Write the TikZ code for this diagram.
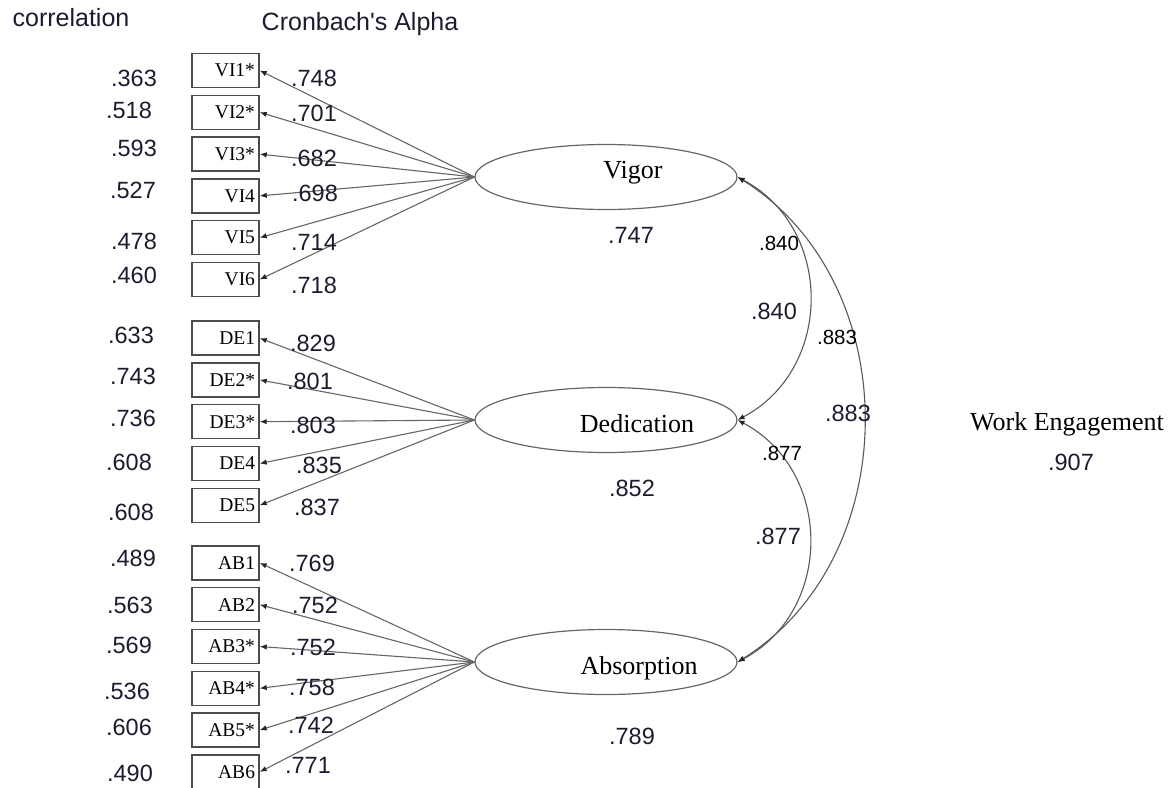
\documentclass[tikz,border=0pt]{standalone}
\usepackage{fontspec}
\setmainfont{Liberation Serif}
\newfontfamily\arialf{Liberation Sans}
\usetikzlibrary{arrows.meta,positioning,shapes.geometric}
\definecolor{numc}{RGB}{28,28,48}

\begin{document}
\begin{tikzpicture}[x=1pt,y=-1pt,>={Latex[length=7pt,width=5.5pt,color=black!85]},node distance=6.4pt,
  item/.style={draw=black!70,line width=1.4pt,minimum width=67pt,minimum height=34pt,
    text width=59pt,align=right,inner sep=0pt,font=\fontsize{19.5}{19.5}\selectfont},
  fac/.style={draw=black!60,line width=1.2pt,ellipse,minimum width=262pt,
    minimum height=65pt,inner sep=0pt},
  facname/.style={font=\fontsize{26}{26}\selectfont,inner sep=0pt},
  num/.style={font=\arialf\fontsize{23.5}{23.5}\selectfont,text=numc,inner sep=0pt},
  small/.style={font=\arialf\fontsize{20.5}{20.5}\selectfont,inner sep=0pt},
  head/.style={font=\arialf\fontsize{25}{25}\selectfont,text=numc,inner sep=0pt},
  load/.style={draw=black!60,line width=1.1pt,->},
  covline/.style={draw=black!65,line width=1.1pt,<->}]
\useasboundingbox (0,0) rectangle (1174,787);
% headings
\node[head] (hcor) at (71,18) {correlation};
\node[head] (halp) at (360,24) {Cronbach's Alpha};
% observed items
\node[item] (vi1) at (225.5,70.5) {VI1*};
\node[item,below=of vi1] (vi2) {VI2*};
\node[item,below=of vi2] (vi3) {VI3*};
\node[item,below=of vi3] (vi4) {VI4};
\node[item,below=of vi4] (vi5) {VI5};
\node[item,below=of vi5] (vi6) {VI6};
\node[item,below=23.2pt of vi6] (de1) {DE1};
\node[item,below=of de1] (de2) {DE2*};
\node[item,below=of de2] (de3) {DE3*};
\node[item,below=of de3] (de4) {DE4};
\node[item,below=of de4] (de5) {DE5};
\node[item,below=22.2pt of de5] (ab1) {AB1};
\node[item,below=of ab1] (ab2) {AB2};
\node[item,below=of ab2] (ab3) {AB3*};
\node[item,below=of ab3] (ab4) {AB4*};
\node[item,below=of ab4] (ab5) {AB5*};
\node[item,below=of ab5] (ab6) {AB6};
% latent factors
\node[fac] (vig) at (606,177) {};
\node[fac] (ded) at (606,420) {};
\node[fac] (abs) at (606,662) {};
\node[facname] (vigt) at (633,173) {Vigor};
\node[facname] (dedt) at (637,424) {Dedication};
\node[facname] (abst) at (639,668) {Absorption};
\node[num] (avig) at (631,235) {.747};
\node[num] (aded) at (632,488) {.852};
\node[num] (aabs) at (632,736) {.789};
% item-total correlations
\node[num] (r1) at (134,78) {.363};
\node[num] (r2) at (129,110) {.518};
\node[num] (r3) at (134,148) {.593};
\node[num] (r4) at (133,190) {.527};
\node[num] (r5) at (134,241) {.478};
\node[num] (r6) at (134,275) {.460};
\node[num] (r7) at (131,335) {.633};
\node[num] (r8) at (133,376) {.743};
\node[num] (r9) at (133,418) {.736};
\node[num] (r10) at (129,462) {.608};
\node[num] (r11) at (131,512) {.608};
\node[num] (r12) at (133,558) {.489};
\node[num] (r13) at (130,605) {.563};
\node[num] (r14) at (129,645) {.569};
\node[num] (r15) at (127,691) {.536};
\node[num] (r16) at (129,727) {.606};
\node[num] (r17) at (130,773) {.490};
% loadings
\draw[load] (vig.west) -- (vi1.east);
\draw[load] (vig.west) -- (vi2.east);
\draw[load] (vig.west) -- (vi3.east);
\draw[load] (vig.west) -- (vi4.east);
\draw[load] (vig.west) -- (vi5.east);
\draw[load] (vig.west) -- (vi6.east);
\draw[load] (ded.west) -- (de1.east);
\draw[load] (ded.west) -- (de2.east);
\draw[load] (ded.west) -- (de3.east);
\draw[load] (ded.west) -- (de4.east);
\draw[load] (ded.west) -- (de5.east);
\draw[load] (abs.west) -- (ab1.east);
\draw[load] (abs.west) -- (ab2.east);
\draw[load] (abs.west) -- (ab3.east);
\draw[load] (abs.west) -- (ab4.east);
\draw[load] (abs.west) -- (ab5.east);
\draw[load] (abs.west) -- (ab6.east);
\node[num] (l1) at (314,78) {.748};
\node[num] (l2) at (314,113) {.701};
\node[num] (l3) at (314,158) {.682};
\node[num] (l4) at (315,193) {.698};
\node[num] (l5) at (314,242) {.714};
\node[num] (l6) at (314,285) {.718};
\node[num] (l7) at (313,343) {.829};
\node[num] (l8) at (310,381) {.801};
\node[num] (l9) at (313,425) {.803};
\node[num] (l10) at (319,465) {.835};
\node[num] (l11) at (317,507) {.837};
\node[num] (l12) at (312,563) {.769};
\node[num] (l13) at (315,605) {.752};
\node[num] (l14) at (313,647) {.752};
\node[num] (l15) at (312,687) {.758};
\node[num] (l16) at (311,725) {.742};
\node[num] (l17) at (308,765) {.771};
% factor covariances
\draw[covline] (vig.east) to[out=-28,in=28,looseness=1.15] (ded.east);
\draw[covline] (ded.east) to[out=-28,in=28,looseness=1.15] (abs.east);
\draw[covline] (vig.east) to[out=-32,in=32,looseness=1.05] (abs.east);
\node[small] (c1) at (779,243) {.840};
\node[num] (c2) at (774,311) {.840};
\node[small] (c3) at (837,337) {.883};
\node[num] (c4) at (848,413) {.883};
\node[small] (c5) at (782,453) {.877};
\node[num] (c6) at (778,536) {.877};
% second order
\node[facname] (we) at (1067,424) {Work Engagement};
\node[num] (awe) at (1071,462) {.907};
\end{tikzpicture}
\end{document}
